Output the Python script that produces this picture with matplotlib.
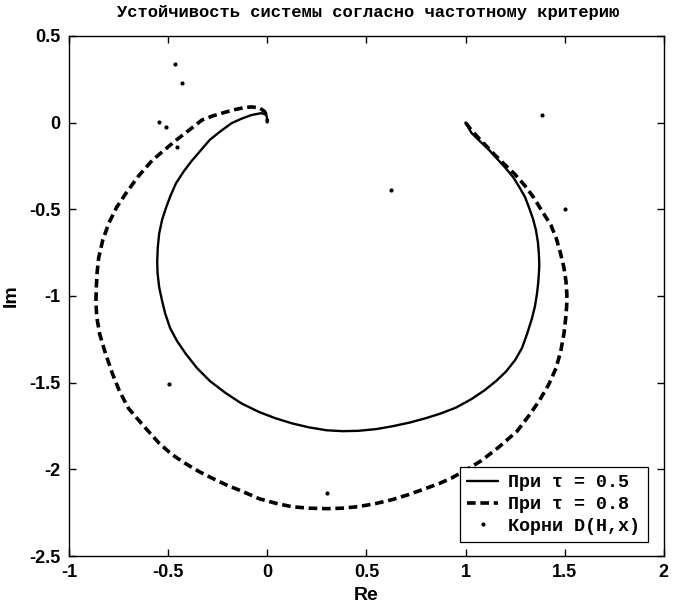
import matplotlib
matplotlib.use("Agg")
import matplotlib.pyplot as plt

# --- data ---
re_tau05 = [1.0, 1.015, 1.03, 1.07, 1.12, 1.16, 1.20, 1.24, 1.27, 1.30, 1.32, 1.34, 1.355,
            1.365, 1.37, 1.372, 1.37, 1.366, 1.36, 1.35, 1.335, 1.31, 1.285, 1.25, 1.205,
            1.155, 1.095, 1.03, 0.95, 0.87, 0.80, 0.72, 0.63, 0.55, 0.46, 0.38, 0.30, 0.21,
            0.125, 0.04, -0.04, -0.13, -0.21, -0.29, -0.355, -0.41, -0.455, -0.49, -0.515,
            -0.53, -0.545, -0.553, -0.555, -0.552, -0.545, -0.53, -0.51, -0.487, -0.46,
            -0.42, -0.38, -0.335, -0.29, -0.235, -0.18, -0.13, -0.08, -0.03, -0.005, 0.0, 0.0]
im_tau05 = [0.0, -0.03, -0.06, -0.105, -0.16, -0.21, -0.26, -0.315, -0.37, -0.43, -0.49, -0.555,
            -0.62, -0.69, -0.76, -0.82, -0.87, -0.93, -0.99, -1.06, -1.13, -1.22, -1.30, -1.37,
            -1.435, -1.49, -1.545, -1.595, -1.645, -1.68, -1.705, -1.73, -1.752, -1.768, -1.778,
            -1.78, -1.775, -1.758, -1.735, -1.705, -1.67, -1.62, -1.56, -1.49, -1.415, -1.335,
            -1.26, -1.185, -1.10, -1.03, -0.95, -0.87, -0.80, -0.72, -0.64, -0.56, -0.49, -0.42,
            -0.35, -0.28, -0.22, -0.16, -0.10, -0.05, -0.004, 0.022, 0.043, 0.054, 0.045, 0.02, 0.0]

re_tau08 = [1.0, 1.02, 1.05, 1.10, 1.15, 1.20, 1.25, 1.30, 1.345, 1.385, 1.43, 1.458, 1.478,
            1.495, 1.506, 1.511, 1.51, 1.505, 1.496, 1.48, 1.456, 1.42, 1.37, 1.32, 1.26, 1.17,
            1.08, 1.00, 0.93, 0.865, 0.80, 0.715, 0.63, 0.545, 0.46, 0.38, 0.30, 0.21, 0.125,
            0.04, -0.04, -0.12, -0.21, -0.28, -0.344, -0.415, -0.48, -0.545, -0.60, -0.65,
            -0.70, -0.745, -0.78, -0.815, -0.845, -0.86, -0.864, -0.862, -0.858, -0.85, -0.83,
            -0.80, -0.76, -0.713, -0.65, -0.58, -0.52, -0.46, -0.395, -0.33, -0.27, -0.21,
            -0.165, -0.12, -0.08, -0.04, -0.015, 0.0, 0.0]
im_tau08 = [0.0, -0.03, -0.07, -0.13, -0.19, -0.245, -0.30, -0.365, -0.435, -0.51, -0.59, -0.67,
            -0.75, -0.83, -0.91, -0.99, -1.06, -1.13, -1.22, -1.32, -1.417, -1.51, -1.608, -1.69,
            -1.78, -1.87, -1.95, -2.005, -2.05, -2.083, -2.11, -2.145, -2.175, -2.198, -2.215,
            -2.224, -2.227, -2.224, -2.216, -2.195, -2.17, -2.13, -2.088, -2.05, -2.013, -1.965,
            -1.915, -1.85, -1.78, -1.715, -1.648, -1.55, -1.45, -1.335, -1.22, -1.12, -1.03,
            -0.95, -0.865, -0.78, -0.68, -0.583, -0.49, -0.409, -0.31, -0.218, -0.16, -0.102,
            -0.045, 0.014, 0.04, 0.060, 0.074, 0.085, 0.09, 0.085, 0.065, 0.035, 0.0]

roots_re = [-0.465, -0.43, -0.546, -0.511, -0.455, 0.624, 1.385, 1.501, -0.496, 0.301]
roots_im = [0.338, 0.228, 0.002, -0.027, -0.143, -0.392, 0.043, -0.496, -1.509, -2.135]

xticks = [-1, -0.5, 0, 0.5, 1, 1.5, 2]
xtick_labels = ["-1", "-0.5", "0", "0.5", "1", "1.5", "2"]
yticks = [-2.5, -2, -1.5, -1, -0.5, 0, 0.5]
ytick_labels = ["-2.5", "-2", "-1.5", "-1", "-0.5", "0", "0.5"]

title = "Устойчивость системы согласно частотному критерию"
legend_labels = ["При τ = 0.5", "При τ = 0.8", "Корни D(H,x)"]

# --- figure ---
sans = ["Liberation Sans Narrow", "Liberation Sans", "DejaVu Sans"]
mono = ["Liberation Mono", "DejaVu Sans Mono"]

fig = plt.figure(figsize=(6.76, 6.07), dpi=100)
ax = fig.add_axes([0.102, 0.084, 0.880, 0.857])

l1, = ax.plot(re_tau05, im_tau05, color="black", lw=1.7,
              solid_capstyle="round", solid_joinstyle="round")
l2, = ax.plot(re_tau08, im_tau08, color="black", lw=2.6, linestyle=(0, (2.4, 1.3)))
l3, = ax.plot(roots_re, roots_im, linestyle="none", marker=".", color="black", markersize=4)

ax.set_xlim(-1, 2)
ax.set_ylim(-2.5, 0.5)
ax.set_xticks(xticks)
ax.set_xticklabels(xtick_labels)
ax.set_yticks(yticks)
ax.set_yticklabels(ytick_labels)
ax.tick_params(direction="in", length=5, width=1, top=True, right=True,
               labelsize=13, pad=6)
for lab in ax.get_xticklabels() + ax.get_yticklabels():
    lab.set_family(sans)
    lab.set_fontweight("bold")
for sp in ax.spines.values():
    sp.set_linewidth(1.0)

ax.set_xlabel("Re", fontsize=14, family=sans, fontweight="bold", labelpad=4)
ax.set_ylabel("Im", fontsize=14, family=sans, fontweight="bold")
ax.yaxis.set_label_coords(-0.082, 0.5)

fig.text(0.545, 0.980, title, ha="center", va="center", fontsize=12.3,
         family=mono, fontweight="bold")

leg = ax.legend([l1, l2, l3], legend_labels, loc="lower left",
                bbox_to_anchor=(0.657, 0.027), borderaxespad=0,
                fancybox=False, framealpha=1, edgecolor="black",
                prop={"family": mono, "weight": "bold", "size": 13.2},
                handlelength=1.7, handletextpad=0.55, borderpad=0.4,
                labelspacing=0.25)
leg.get_frame().set_linewidth(0.9)

fig.savefig("out.png", dpi=100)
